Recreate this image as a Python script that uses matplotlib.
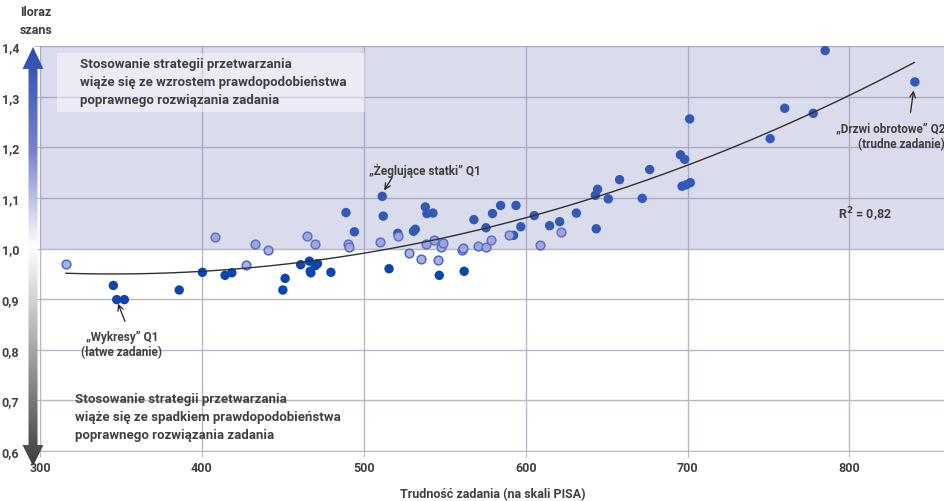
import numpy as np
import matplotlib.pyplot as plt
from matplotlib.patches import Polygon, Rectangle
from matplotlib.colors import LinearSegmentedColormap
from matplotlib.ticker import FuncFormatter

## data
dark_x = [345.3, 347.4, 352.1, 386, 400.3, 414.3, 418.5, 450, 451.4, 461, 466.4, 466.9,
          467.3, 470, 471.4, 479.7, 489, 494.2, 511.4, 512, 515.6, 521, 530.7, 531.8, 538,
          539, 542.7, 546.6, 562, 568, 575.5, 579.5, 584.5, 592.5, 594, 597, 605.3, 614.8,
          621, 631.3, 643.6, 643, 644.4, 651, 658, 672, 676.6, 695.6, 698.2, 701.3, 696.6,
          699.3, 701.7, 751, 760, 777.6, 785, 840.4]
dark_y = [0.927, 0.899, 0.899, 0.918, 0.953, 0.947, 0.952, 0.918, 0.941, 0.968, 0.975, 0.955,
          0.952, 0.966, 0.970, 0.953, 1.071, 1.033, 1.103, 1.064, 0.960, 1.030, 1.034, 1.038, 1.082,
          1.069, 1.070, 0.947, 0.955, 1.057, 1.041, 1.069, 1.085, 1.026, 1.085, 1.043, 1.065, 1.045,
          1.053, 1.070, 1.039, 1.105, 1.117, 1.098, 1.136, 1.099, 1.156, 1.185, 1.176, 1.256, 1.123,
          1.126, 1.130, 1.217, 1.277, 1.267, 1.391, 1.329]

light_x = [316, 408, 427, 432.5, 441, 465, 470, 490.5, 490.8, 510, 521, 528, 535.5, 538.5,
           543.5, 545.8, 547.6, 548.9, 560.6, 561.2, 570.5, 575.6, 578.5, 590, 608.6, 622]
light_y = [0.970, 1.023, 0.968, 1.009, 0.997, 1.024, 1.009, 1.009, 1.003, 1.013, 1.024, 0.991,
           0.980, 1.009, 1.016, 0.978, 1.003, 1.010, 0.998, 1.001, 1.005, 1.003, 1.016, 1.026,
           1.007, 1.032]

x_ticks = [300, 400, 500, 600, 700, 800]
y_ticks = [0.6, 0.7, 0.8, 0.9, 1.0, 1.1, 1.2, 1.3, 1.4]

plt.rcParams['font.family'] = ['Roboto', 'DejaVu Sans']
plt.rcParams['font.weight'] = 'bold'
txt = '#404040'

fig = plt.figure(figsize=(9.45, 5.02), dpi=100)
ax = fig.add_axes([40 / 945, 50 / 502, 905 / 945, 405 / 502])

ax.set_xlim(300, 859)
ax.set_ylim(0.6, 1.4)

# points
ax.scatter(dark_x, dark_y, s=46, color='#0b45b0', edgecolor='none', zorder=2)
ax.scatter(light_x, light_y, s=40, color='#aab0e2', edgecolor='#3d62c8', linewidth=1.0, zorder=2)

# trend line (2nd order polynomial on all points)
all_x = np.array(dark_x + light_x)
all_y = np.array(dark_y + light_y)
coef = np.polyfit(all_x, all_y, 2)
xs = np.linspace(316, 840, 200)
ax.plot(xs, np.polyval(coef, xs), color='#303030', lw=1.0, zorder=4)

# lavender overlay above 1.0
ax.add_patch(Rectangle((300, 1.0), 560, 0.4, facecolor='#8a8ac9', alpha=0.3,
                       edgecolor='none', zorder=3))

# grid
ax.set_xticks(x_ticks)
ax.set_yticks(y_ticks)
ax.grid(True, color='#b8b8c4', lw=1.0, zorder=1)
ax.set_axisbelow(True)
for s in ['top', 'right']:
    ax.spines[s].set_visible(False)
for s in ['left', 'bottom']:
    ax.spines[s].set_color('#b8b8c4')
ax.tick_params(length=4, color='#b8b8c4', labelsize=9, labelcolor=txt)
ax.tick_params(axis='y', pad=11)
ax.yaxis.set_major_formatter(FuncFormatter(lambda v, p: f'{v:.1f}'.replace('.', ',')))

ax.set_xlabel('Trudność zadania (na skali PISA)', fontsize=9, fontweight='bold', color=txt,
              labelpad=9)
fig.text(20 / 945, 1 - 22 / 502, 'Iloraz\nszans', ha='left', va='center', fontsize=9,
         color=txt, linespacing=1.5)

# top text box
ax.add_patch(Rectangle((310.5, 1.269), 190.4, 0.118, facecolor='white', alpha=0.45,
                       edgecolor='none', zorder=5))
ax.text(324.7, 1.330, 'Stosowanie strategii przetwarzania\nwiąże się ze wzrostem prawdopodobieństwa\n'
        'poprawnego rozwiązania zadania', ha='left', va='center', fontsize=9.5,
        color=txt, linespacing=1.5, zorder=6)
ax.text(321.6, 0.668, 'Stosowanie strategii przetwarzania\nwiąże się ze spadkiem prawdopodobieństwa\n'
        'poprawnego rozwiązania zadania', ha='left', va='center', fontsize=9.5,
        color=txt, linespacing=1.5, zorder=6)

# annotations
arrow = dict(arrowstyle='->', color='#202020', lw=0.9, shrinkA=0, shrinkB=0)
ax.text(538, 1.156, '„Żeglujące statki” Q1', ha='center', va='center', fontsize=8.5,
        color=txt, zorder=6)
ax.annotate('', xy=(512.6, 1.115), xytext=(517.5, 1.140), arrowprops=arrow, zorder=6)

ax.text(350.5, 0.812, '„Wykresy” Q1\n(łatwe zadanie)', ha='center', va='center',
        fontsize=8.5, color=txt, zorder=6)
ax.annotate('', xy=(348.2, 0.891), xytext=(352.5, 0.856), arrowprops=arrow, zorder=6)

ax.text(859, 1.223, '„Drzwi obrotowe” Q2\n(trudne zadanie)', ha='right', va='center',
        fontsize=8.5, color=txt, zorder=6)
ax.annotate('', xy=(839.6, 1.312), xytext=(837.7, 1.269), arrowprops=arrow, zorder=6)

ax.text(793, 1.069, 'R$^\\mathbf{2}$ = 0,82', ha='left', va='center', fontsize=9,
        color=txt, zorder=6)

# gradient double arrow on the left, drawn in pixel coordinates
ov = fig.add_axes([0, 0, 1, 1])
ov.set_xlim(0, 945)
ov.set_ylim(502, 0)
ov.axis('off')
ov.patch.set_alpha(0)
cx = 33
pts = [(cx, 48), (cx + 10.5, 70), (cx + 4.5, 70), (cx + 4.5, 446), (cx + 10.5, 446),
       (cx, 467), (cx - 10.5, 446), (cx - 4.5, 446), (cx - 4.5, 70), (cx - 10.5, 70)]
poly = Polygon(pts, closed=True, facecolor='none', edgecolor='none')
ov.add_patch(poly)
cmap = LinearSegmentedColormap.from_list('arr', [(0, '#2b4cae'), (0.25, '#7a84cc'),
                                                 (0.475, '#ffffff'), (0.72, '#a8a8a8'),
                                                 (1, '#3c3c3c')])
grad = np.linspace(0, 1, 256).reshape(-1, 1)
im = ov.imshow(grad, cmap=cmap, extent=(cx - 11, cx + 11, 467, 48), aspect='auto')
im.set_clip_path(poly)

fig.savefig('out.png', dpi=100)
